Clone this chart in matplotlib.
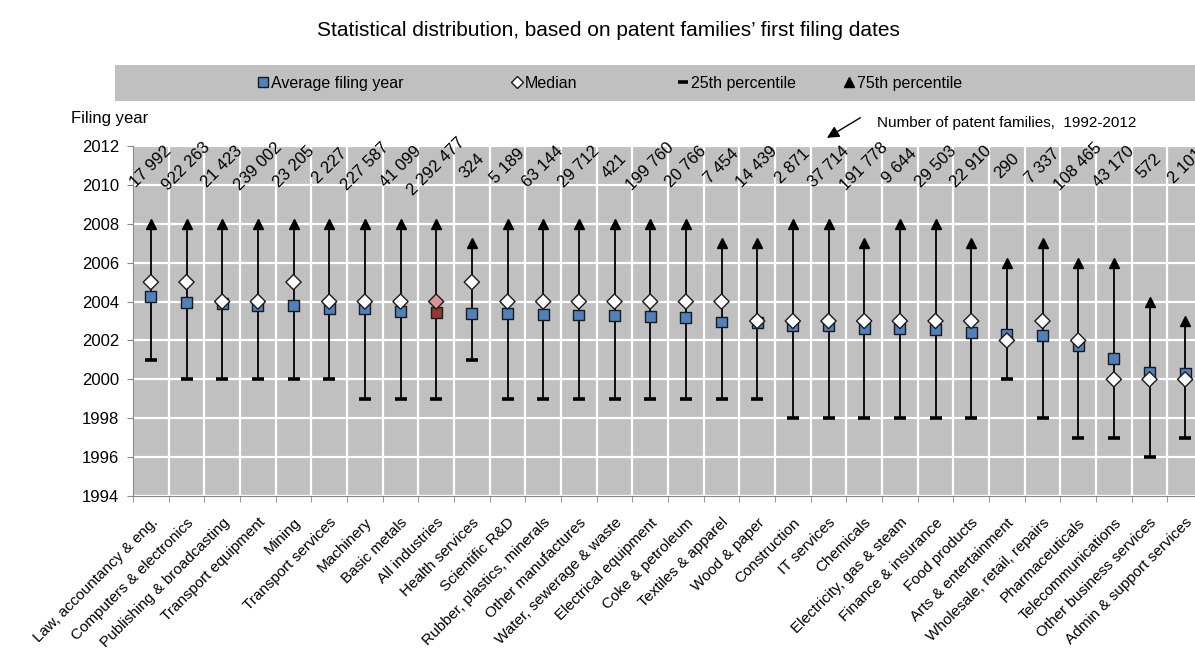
#!/usr/bin/env python3
"""
Filing-year distribution of patent families by industry (mean, median,
25th and 75th percentile), with the number of families written above each column.
"""

import matplotlib
matplotlib.use("Agg")
import matplotlib.pyplot as plt
from matplotlib.lines import Line2D
from matplotlib.patches import Rectangle

INDUSTRIES = [
    "Law, accountancy & eng.", "Computers & electronics", "Publishing & broadcasting",
    "Transport equipment", "Mining", "Transport services", "Machinery", "Basic metals",
    "All industries", "Health services", "Scientific R&D", "Rubber, plastics, minerals",
    "Other manufactures", "Water, sewerage & waste", "Electrical equipment",
    "Coke & petroleum", "Textiles & apparel", "Wood & paper", "Construction",
    "IT services", "Chemicals", "Electricity, gas & steam", "Finance & insurance",
    "Food products", "Arts & entertainment", "Wholesale, retail, repairs",
    "Pharmaceuticals", "Telecommunications", "Other business services",
    "Admin & support services",
]

AVG_YEAR = [
    2004.25, 2003.96, 2003.91, 2003.82, 2003.79, 2003.65, 2003.62, 2003.48,
    2003.45, 2003.40, 2003.40, 2003.34, 2003.31, 2003.29, 2003.24, 2003.16,
    2002.95, 2002.90, 2002.75, 2002.75, 2002.63, 2002.63, 2002.54, 2002.42,
    2002.32, 2002.27, 2001.72, 2001.08, 2000.34, 2000.28,
]
MEDIAN_YEAR = [
    2005, 2005, 2004, 2004, 2005, 2004, 2004, 2004, 2004, 2005,
    2004, 2004, 2004, 2004, 2004, 2004, 2004, 2003, 2003, 2003,
    2003, 2003, 2003, 2003, 2002, 2003, 2002, 2000, 2000, 2000,
]
P25_YEAR = [
    2001, 2000, 2000, 2000, 2000, 2000, 1999, 1999, 1999, 2001,
    1999, 1999, 1999, 1999, 1999, 1999, 1999, 1999, 1998, 1998,
    1998, 1998, 1998, 1998, 2000, 1998, 1997, 1997, 1996, 1997,
]
P75_YEAR = [
    2008, 2008, 2008, 2008, 2008, 2008, 2008, 2008, 2008, 2007,
    2008, 2008, 2008, 2008, 2008, 2008, 2007, 2007, 2008, 2008,
    2007, 2008, 2008, 2007, 2006, 2007, 2006, 2006, 2004, 2003,
]
N_FAMILIES = [
    17992, 922263, 21423, 239002, 23205, 2227, 227587, 41099, 2292477, 324,
    5189, 63144, 29712, 421, 199760, 20766, 7454, 14439, 2871, 37714,
    191778, 9644, 29503, 22910, 290, 7337, 108465, 43170, 572, 2101,
]
HIGHLIGHT = "All industries"

Y_TICKS = list(range(1994, 2013, 2))
LABEL_YEAR = 2010.95  # vertical position of the family counts

BLUE = "#4F81BD"
RED_SQ = "#953735"
RED_DIAM = "#D99694"
PLOT_BG = "#C0C0C0"
AXIS_GREY = "#868686"

plt.rcParams["font.family"] = ["Liberation Sans", "DejaVu Sans"]


def fmt_count(n: int) -> str:
    return f"{n:,}".replace(",", " ")


def main() -> int:
    fig = plt.figure(figsize=(11.95, 6.57), dpi=100)
    ax = fig.add_axes([0.1113, 0.245, 0.8954, 0.5328])
    ax.set_facecolor(PLOT_BG)

    xs = list(range(len(INDUSTRIES)))
    hi = INDUSTRIES.index(HIGHLIGHT)
    sq_colors = [RED_SQ if i == hi else BLUE for i in xs]
    dm_colors = [RED_DIAM if i == hi else "white" for i in xs]

    # whiskers
    ax.vlines(xs, P25_YEAR, P75_YEAR, color="black", lw=1.3, zorder=2)
    ax.plot(xs, P25_YEAR, ls="none", marker="_", ms=8, mew=2.6, color="black", zorder=3)
    ax.plot(xs, P75_YEAR, ls="none", marker="^", ms=7, color="black", zorder=3)
    ax.scatter(xs, AVG_YEAR, marker="s", s=62, c=sq_colors, edgecolors="#1a1a1a",
               linewidths=1.0, zorder=4)
    ax.scatter(xs, MEDIAN_YEAR, marker="D", s=60, c=dm_colors, edgecolors="#1a1a1a",
               linewidths=1.0, zorder=5)

    for x, n in zip(xs, N_FAMILIES):
        ax.text(x, LABEL_YEAR, fmt_count(n), rotation=45, ha="center", va="center",
                rotation_mode="anchor", fontsize=12, zorder=6)

    ax.set_xlim(-0.5, len(INDUSTRIES) - 0.5)
    ax.set_ylim(Y_TICKS[0], Y_TICKS[-1])
    ax.set_yticks(Y_TICKS)
    ax.set_yticklabels([str(y) for y in Y_TICKS], fontsize=12)

    ax.set_xticks(xs)
    ax.set_xticklabels(INDUSTRIES, rotation=45, ha="right", va="top",
                       rotation_mode="anchor", fontsize=11)
    ax.tick_params(axis="x", which="major", length=0, pad=14)
    ax.set_xticks([x + 0.5 for x in xs[:-1]] + [-0.5], minor=True)
    ax.tick_params(axis="x", which="minor", length=4, color=AXIS_GREY)
    ax.tick_params(axis="y", length=4, color=AXIS_GREY, pad=6)

    ax.grid(True, axis="y", color="white", lw=1.6, zorder=1)
    ax.grid(True, axis="x", which="minor", color="white", lw=1.6, zorder=1)
    ax.set_axisbelow(True)

    for side in ("top", "right"):
        ax.spines[side].set_visible(False)
    for side in ("left", "bottom"):
        ax.spines[side].set_color(AXIS_GREY)

    # title and annotations
    fig.text(0.509, 0.954, "Statistical distribution, based on patent families\u2019 first filing dates",
             ha="center", va="center", fontsize=15)
    fig.text(0.059, 0.820, "Filing year", ha="left", va="center", fontsize=12)
    fig.text(0.734, 0.813, "Number of patent families,  1992-2012", ha="left", va="center",
             fontsize=11)
    fig.add_artist(plt.Annotation(
        "", xy=(0.690, 0.788), xytext=(0.722, 0.823),
        xycoords="figure fraction", textcoords="figure fraction",
        arrowprops=dict(arrowstyle="-|>", color="black", lw=1.0, mutation_scale=18)))

    # legend band
    fig.add_artist(Rectangle((0.0962, 0.846), 0.91, 0.055, transform=fig.transFigure,
                             facecolor=PLOT_BG, edgecolor="none", zorder=0))
    entries = [
        (Line2D([], [], ls="none", marker="s", ms=7, mfc=BLUE, mec="#1a1a1a"), "Average filing year", 0.276),
        (Line2D([], [], ls="none", marker="D", ms=6, mfc="white", mec="#1a1a1a"), "Median", 0.455),
        (Line2D([], [], ls="none", marker="_", ms=7, mew=2.6, color="black"), "25th percentile", 0.616),
        (Line2D([], [], ls="none", marker="^", ms=7, color="black"), "75th percentile", 0.755),
    ]
    for handle, label, xc in entries:
        fig.legend(handles=[handle], labels=[label], loc="center",
                   bbox_to_anchor=(xc, 0.8735), frameon=False, fontsize=11.5,
                   handlelength=0.8, handletextpad=0.1, borderpad=0)

    fig.savefig("out.png", dpi=100)
    return 0


if __name__ == "__main__":
    raise SystemExit(main())
